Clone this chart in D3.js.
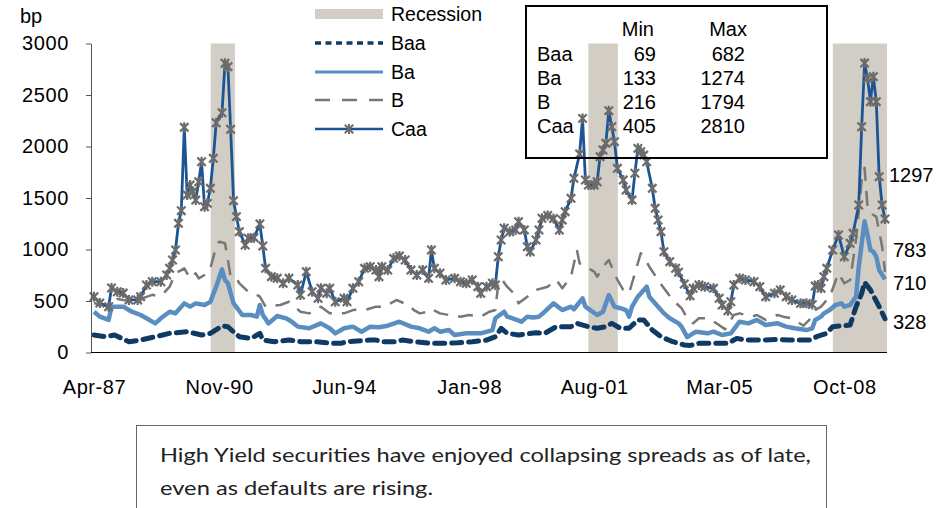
<!DOCTYPE html>
<html><head><meta charset="utf-8">
<script src="https://cdn.jsdelivr.net/npm/d3@7"></script>
<style>body{margin:0;background:#fff}svg{display:block}</style>
</head><body>
<svg id="c" width="946" height="508"></svg>
<script>
const yTicks = [0,500,1000,1500,2000,2500,3000];
const xTickDates = ["1987-04","1990-11","1994-06","1998-01","2001-08","2005-03","2008-10"];
const xTickLabels = ["Apr-87","Nov-90","Jun-94","Jan-98","Aug-01","Mar-05","Oct-08"];
const recessions = [["1990-08-05","1991-04-15"],["2001-06-01","2002-04-05"],["2008-06-03","2009-12-22"]];

const baa = [["1987-04",170],["1987-08",153],["1987-11",170],["1988-04",105],["1988-08",121],["1989-01",153],["1989-06",186],["1989-12",202],["1990-05",170],["1990-08",186],["1990-12",257],["1991-02",250],["1991-04",200],["1991-06",153],["1991-10",137],["1992-01",186],["1992-02",121],["1992-06",105],["1992-11",121],["1993-03",105],["1993-08",105],["1994-02",89],["1994-05",89],["1994-07",105],["1995-03",121],["1995-05",121],["1995-07",105],["1995-12",105],["1996-02",121],["1996-06",105],["1996-12",89],["1997-05",89],["1997-09",94],["1998-02",105],["1998-07",121],["1998-10",153],["1998-12",235],["1999-02",186],["1999-06",170],["1999-12",192],["2000-03",186],["2000-07",251],["2000-12",251],["2001-02",283],["2001-06",251],["2001-09",235],["2001-12",251],["2002-02",283],["2002-05",235],["2002-08",235],["2002-11",316],["2003-01",316],["2003-04",218],["2003-07",153],["2003-11",105],["2004-03",73],["2004-05",69],["2004-08",89],["2005-01",89],["2005-06",89],["2005-09",137],["2005-12",121],["2006-06",121],["2006-11",126],["2007-03",121],["2007-07",121],["2007-10",121],["2008-01",160],["2008-04",186],["2008-06",251],["2008-12",267],["2009-02",445],["2009-04",575],["2009-05",682],["2009-07",608],["2009-10",445],["2009-12",328]];

const ba = [["1987-04",396],["1987-06",348],["1987-09",316],["1987-10",445],["1988-02",445],["1988-05",396],["1988-08",364],["1988-10",332],["1989-01",283],["1989-03",332],["1989-06",396],["1989-08",380],["1989-11",477],["1990-01",445],["1990-03",477],["1990-06",461],["1990-08",493],["1990-10",639],["1990-12",808],["1991-01",704],["1991-02",672],["1991-04",477],["1991-05",440],["1991-07",364],["1991-10",364],["1991-12",348],["1992-01",461],["1992-02",364],["1992-04",283],["1992-07",354],["1992-10",332],["1992-12",299],["1993-02",251],["1993-06",235],["1993-10",283],["1994-01",235],["1994-03",186],["1994-06",235],["1994-09",251],["1994-12",202],["1995-03",251],["1995-06",245],["1995-09",260],["1996-01",299],["1996-05",251],["1996-08",235],["1996-11",202],["1997-01",235],["1997-03",202],["1997-06",218],["1997-08",170],["1997-12",186],["1998-05",186],["1998-09",218],["1998-10",332],["1999-01",396],["1999-02",348],["1999-04",332],["1999-07",299],["1999-09",348],["1999-11",340],["2000-01",348],["2000-03",396],["2000-06",477],["2000-09",412],["2000-12",445],["2001-01",420],["2001-04",526],["2001-05",445],["2001-09",364],["2001-11",396],["2002-01",558],["2002-03",445],["2002-05",430],["2002-07",412],["2002-08",348],["2002-09",445],["2002-11",542],["2003-02",639],["2003-03",542],["2003-06",445],["2003-08",380],["2003-10",332],["2004-01",283],["2004-02",251],["2004-04",150],["2004-07",202],["2004-11",186],["2005-01",202],["2005-04",170],["2005-07",186],["2005-10",299],["2006-01",283],["2006-04",316],["2006-07",267],["2006-11",283],["2007-02",251],["2007-05",235],["2007-09",218],["2007-11",235],["2007-12",316],["2008-02",348],["2008-03",380],["2008-05",412],["2008-07",461],["2008-09",477],["2008-10",445],["2008-12",461],["2009-02",542],["2009-03",833],["2009-05",1274],["2009-06",1141],["2009-07",995],["2009-08",979],["2009-09",930],["2009-10",800],["2009-12",710]];

const bRating = [["1987-04",480],["1987-08",450],["1987-12",520],["1988-04",500],["1988-08",520],["1988-10",540],["1988-12",560],["1989-02",545],["1989-04",577],["1989-06",639],["1989-08",769],["1989-10",800],["1989-11",817],["1990-01",720],["1990-03",769],["1990-04",720],["1990-07",769],["1990-08",817],["1990-10",1027],["1990-11",1076],["1991-01",1060],["1991-02",898],["1991-03",736],["1991-05",720],["1991-06",672],["1991-09",590],["1991-11",575],["1992-01",542],["1992-03",445],["1992-08",461],["1992-11",493],["1993-03",396],["1993-06",380],["1993-10",445],["1994-01",380],["1994-06",380],["1994-09",412],["1995-02",420],["1995-05",445],["1995-08",445],["1995-12",510],["1996-04",461],["1996-06",412],["1996-08",380],["1996-11",396],["1996-12",420],["1997-03",380],["1997-06",364],["1997-10",348],["1998-01",364],["1998-05",348],["1998-08",396],["1998-10",412],["1998-11",672],["1998-12",720],["1999-02",639],["1999-05",558],["1999-06",477],["1999-09",542],["1999-12",607],["2000-04",639],["2000-07",704],["2000-09",623],["2000-12",736],["2001-02",995],["2001-03",866],["2001-06",817],["2001-08",785],["2001-09",736],["2001-12",866],["2002-01",898],["2002-03",769],["2002-04",704],["2002-06",607],["2002-08",575],["2002-10",769],["2002-12",963],["2003-01",931],["2003-03",833],["2003-06",704],["2003-08",623],["2003-11",510],["2004-02",430],["2004-04",332],["2004-06",283],["2004-08",332],["2004-11",332],["2005-02",283],["2005-05",225],["2005-08",364],["2005-10",380],["2006-02",348],["2006-04",364],["2006-07",316],["2006-11",364],["2007-01",348],["2007-04",332],["2007-08",260],["2007-10",316],["2007-12",412],["2008-02",445],["2008-05",542],["2008-08",769],["2008-10",672],["2008-12",704],["2009-02",1092],["2009-04",1675],["2009-05",1794],["2009-06",1416],["2009-07",1351],["2009-09",1319],["2009-11",1027],["2009-12",783]];

const caa = [["1987-04",542],["1987-06",480],["1987-09",445],["1987-10",626],["1987-12",590],["1988-02",577],["1988-04",510],["1988-07",510],["1988-08",542],["1988-10",655],["1988-12",687],["1989-03",687],["1989-05",752],["1989-06",817],["1989-07",898],["1989-08",995],["1989-09",1254],["1989-10",1377],["1989-11",2186],["1989-12",1529],["1990-01",1626],["1990-02",1561],["1990-03",1480],["1990-04",1658],["1990-05",1852],["1990-06",1416],["1990-07",1448],["1990-08",1594],["1990-09",1885],["1990-10",2231],["1990-12",2328],["1991-01",2808],["1991-02",2775],["1991-03",2167],["1991-04",1474],["1991-05",1319],["1991-06",1173],["1991-08",1044],["1991-09",1109],["1991-11",1115],["1992-01",1248],["1992-02",1034],["1992-03",817],["1992-05",736],["1992-07",720],["1992-09",672],["1992-11",720],["1993-02",655],["1993-03",558],["1993-05",785],["1993-07",590],["1993-09",526],["1993-10",623],["1993-12",575],["1994-01",623],["1994-03",493],["1994-06",526],["1994-07",493],["1994-09",623],["1994-11",687],["1995-01",817],["1995-03",833],["1995-05",800],["1995-06",736],["1995-07",833],["1995-09",800],["1995-11",914],["1996-01",936],["1996-03",898],["1996-05",800],["1996-07",752],["1996-09",800],["1996-11",720],["1996-12",995],["1997-01",817],["1997-03",769],["1997-05",704],["1997-08",720],["1997-10",687],["1997-12",672],["1998-02",704],["1998-04",639],["1998-05",575],["1998-07",639],["1998-09",672],["1998-10",655],["1998-11",930],["1998-12",1092],["1999-01",1206],["1999-03",1173],["1999-05",1190],["1999-06",1270],["1999-08",1190],["1999-09",1027],["1999-10",979],["1999-12",1092],["2000-01",1189],["2000-02",1303],["2000-04",1330],["2000-06",1300],["2000-08",1189],["2000-09",1286],["2000-10",1367],["2000-12",1497],["2001-01",1691],["2001-03",1927],["2001-04",2273],["2001-05",1675],["2001-06",1626],["2001-08",1626],["2001-09",1658],["2001-10",1901],["2001-11",1966],["2001-12",2031],["2002-01",2348],["2002-02",2192],["2002-03",2047],["2002-04",1788],["2002-06",1675],["2002-07",1578],["2002-09",1480],["2002-10",1740],["2002-11",1982],["2002-12",1950],["2003-01",1917],["2003-02",1852],["2003-04",1594],["2003-05",1400],["2003-06",1286],["2003-07",1173],["2003-08",979],["2003-10",882],["2003-12",817],["2004-01",780],["2004-03",665],["2004-05",550],["2004-06",623],["2004-08",655],["2004-10",639],["2005-01",623],["2005-03",526],["2005-04",461],["2005-06",405],["2005-07",493],["2005-08",655],["2005-10",720],["2005-12",704],["2006-03",687],["2006-05",639],["2006-07",542],["2006-10",575],["2006-12",607],["2007-02",542],["2007-04",510],["2007-07",477],["2007-09",477],["2007-11",465],["2007-12",645],["2008-01",655],["2008-02",623],["2008-03",736],["2008-04",817],["2008-06",995],["2008-08",1141],["2008-10",930],["2008-12",1060],["2009-01",1157],["2009-03",1432],["2009-04",2192],["2009-05",2810],["2009-06",2662],["2009-07",2435],["2009-08",2678],["2009-09",2435],["2009-10",1707],["2009-11",1432],["2009-12",1297]];

const seriesNames = ["Baa","Ba","B","Caa"];
const tableMin = [69,133,216,405];
const tableMax = [682,1274,1794,2810];
const endLabels = [["Caa","1297"],["B","783"],["Ba","710"],["Baa","328"]];
const noteLines = ["High Yield securities have enjoyed collapsing spreads as of late,","even as defaults are rising."];

const parse = d3.timeParse("%Y-%m");
const parseDay = d3.timeParse("%Y-%m-%d");
const svg = d3.select("#c");
const FONT = "'Liberation Sans', Arial, sans-serif";

const x = d3.scaleTime().domain([parse("1987-04"), parse("2009-12")]).range([94, 885]);
const y = d3.scaleLinear().domain([0, 3000]).range([352.5, 43.5]);

const colors = {Baa:"#0f3a63", Ba:"#5a8ec0", B:"#777777", Caa:"#1c5596", rec:"#d2cec5", marker:"#6b6b6b"};

// recessions
svg.append("g").selectAll("rect").data(recessions).join("rect")
  .attr("x", d => x(parseDay(d[0])))
  .attr("width", d => x(parseDay(d[1])) - x(parseDay(d[0])))
  .attr("y", y(3000)).attr("height", y(0) - y(3000))
  .attr("fill", colors.rec);

const line = d3.line().x(d => x(parse(d[0]))).y(d => y(d[1]));

const styles = {
  Baa: {data: baa, color: colors.Baa, w: 5, dash: "10,7"},
  Ba: {data: ba, color: colors.Ba, w: 4.5, dash: null},
  B: {data: bRating, color: colors.B, w: 2.5, dash: "15,10"},
  Caa: {data: caa, color: colors.Caa, w: 2.8, dash: null}
};

const markerPath = "M-4.2,-4.2L4.2,4.2M-4.2,4.2L4.2,-4.2M0,-5L0,5";

seriesNames.forEach(n => {
  const s = styles[n];
  svg.append("path").datum(s.data)
    .attr("d", line).attr("fill", "none")
    .attr("stroke", s.color).attr("stroke-width", s.w)
    .attr("stroke-linejoin", "round")
    .attr("stroke-linecap", n === "Baa" ? "round" : "butt")
    .attr("stroke-dasharray", s.dash);
});

svg.append("g").selectAll("path").data(caa).join("path")
  .attr("transform", d => `translate(${x(parse(d[0]))},${y(d[1])})`)
  .attr("d", markerPath).attr("stroke", colors.marker).attr("stroke-width", 2.2).attr("fill", "none");

// axes
const yAxis = svg.append("g").attr("transform", "translate(91,0)")
  .call(d3.axisLeft(y).tickValues(yTicks).tickSize(5).tickSizeOuter(0).tickPadding(17).tickFormat(d3.format("d")));
yAxis.select(".domain").attr("stroke", "#555");
yAxis.selectAll(".tick line").attr("stroke", "#555");
yAxis.selectAll("text").attr("font-family", FONT).attr("font-size", 20).attr("letter-spacing", 0.6).attr("fill", "#000");

const xAxis = svg.append("g").attr("transform", `translate(0,${y(0)})`)
  .call(d3.axisBottom(x).tickValues(xTickDates.map(parse)).tickSize(0).tickSizeOuter(0).tickPadding(27)
    .tickFormat((d, i) => xTickLabels[i]));
xAxis.select(".domain").attr("d", `M91,0H887`).attr("stroke", "#000");
xAxis.selectAll("text").attr("font-family", FONT).attr("font-size", 20).attr("letter-spacing", 0.6).attr("fill", "#000");

svg.append("text").attr("x", 20).attr("y", 23).text("bp")
  .attr("font-family", FONT).attr("font-size", 20);

// legend
const lg = svg.append("g").attr("font-family", FONT).attr("font-size", 19.5);
lg.append("rect").attr("x", 315).attr("y", 9).attr("width", 68).attr("height", 10).attr("fill", colors.rec);
lg.append("text").attr("x", 391).attr("y", 14).attr("dy", "0.35em").text("Recession");
const legY = {Baa: 43, Ba: 72, B: 100, Caa: 129};
seriesNames.forEach(n => {
  const s = styles[n];
  lg.append("line").attr("x1", 315).attr("x2", 383).attr("y1", legY[n]).attr("y2", legY[n])
    .attr("stroke", s.color).attr("stroke-width", n === "Baa" ? 3.5 : (n === "Ba" ? 3 : 2.5))
    .attr("stroke-dasharray", n === "Baa" ? "6,4.5" : (n === "B" ? "15,12" : null));
  lg.append("text").attr("x", 391).attr("y", legY[n]).attr("dy", "0.35em").text(n);
});
lg.append("path").attr("transform", `translate(349,${legY.Caa})`).attr("d", markerPath)
  .attr("stroke", colors.marker).attr("stroke-width", 2);

// table
const tb = svg.append("g").attr("font-family", FONT).attr("font-size", 20);
tb.append("rect").attr("x", 526).attr("y", 6).attr("width", 301).attr("height", 152)
  .attr("fill", "none").attr("stroke", "#000").attr("stroke-width", 2);
tb.append("text").attr("x", 654).attr("y", 36).attr("text-anchor", "end").text("Min");
tb.append("text").attr("x", 747).attr("y", 36).attr("text-anchor", "end").text("Max");
const rowY = [61, 85, 109, 133];
seriesNames.forEach((n, i) => {
  tb.append("text").attr("x", 537).attr("y", rowY[i]).text(n);
  tb.append("text").attr("x", 656).attr("y", rowY[i]).attr("text-anchor", "end").text(tableMin[i]);
  tb.append("text").attr("x", 745).attr("y", rowY[i]).attr("text-anchor", "end").text(tableMax[i]);
});

// end labels
const endOffset = {Caa: -44, B: -22, Ba: 4, Baa: 3};
const lastVal = {Caa: caa[caa.length-1][1], B: bRating[bRating.length-1][1], Ba: ba[ba.length-1][1], Baa: baa[baa.length-1][1]};
svg.append("g").selectAll("text").data(endLabels).join("text")
  .attr("x", d => d[0] === "Caa" ? 889 : 893)
  .attr("y", d => y(lastVal[d[0]]) + endOffset[d[0]])
  .attr("dy", "0.35em").text(d => d[1])
  .attr("font-family", FONT).attr("font-size", 20);

// note box
svg.append("rect").attr("x", 136.5).attr("y", 425.5).attr("width", 690).attr("height", 100)
  .attr("fill", "none").attr("stroke", "#666").attr("stroke-width", 1);
svg.append("g").selectAll("text").data(noteLines).join("text")
  .attr("x", 160).attr("y", (d, i) => 462 + i * 33)
  .attr("font-family", "Lato, 'Open Sans', sans-serif").attr("font-size", 19).attr("fill", "#222")
  .attr("textLength", (d, i) => i === 0 ? 651 : 273).attr("lengthAdjust", "spacingAndGlyphs")
  .text(d => d);
</script>
</body></html>
